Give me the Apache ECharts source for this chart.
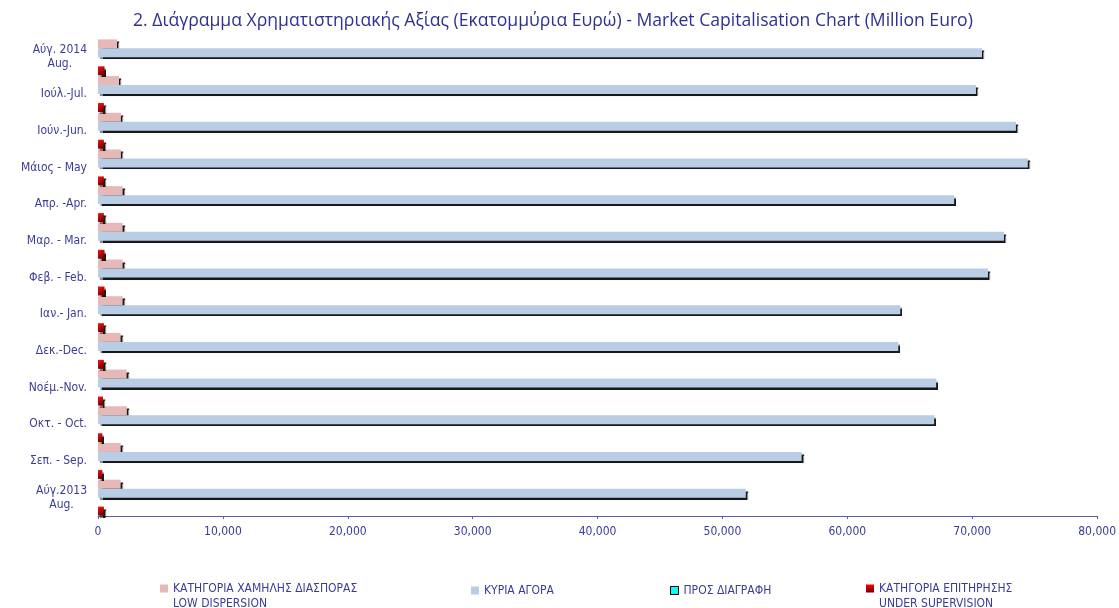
<!DOCTYPE html>
<html>
<head>
<meta charset="utf-8">
<script src="https://cdn.jsdelivr.net/npm/echarts@6/dist/echarts.min.js"></script>
<style>
  html, body { margin: 0; padding: 0; background: #fff; }
  #chart { width: 1119px; height: 608px; }
</style>
</head>
<body>
<div id="chart"></div>
<script>
// months, bottom (Aug 2013) to top (Aug 2014)
const categories = ['Αύγ.2013\nAug.', 'Σεπ. - Sep.', 'Οκτ. - Oct.', 'Νοέμ.-Nov.', 'Δεκ.-Dec.', 'Ιαν.- Jan.',
  'Φεβ. - Feb.', 'Μαρ. - Mar.', 'Απρ. -Apr.', 'Μάιος - May', 'Ιούν.-Jun.', 'Ιούλ.-Jul.', 'Αύγ. 2014\nAug.']

const lowDispersion = [1810, 1810, 2310, 2290, 1810, 1970, 1970, 1970, 1970, 1835, 1835, 1680, 1520]
const mainMarket = [51870, 56340, 66950, 67110, 64080, 64240, 71260, 72540, 68550, 74450, 73500, 70300, 70780]
const toBeDeleted = [0, 0, 0, 0, 0, 0, 0, 0, 0, 0, 0, 0, 0]
const underSupervision = [470, 350, 350, 400, 470, 470, 520, 520, 470, 470, 470, 470, 520]

const seriesNames = ['ΚΑΤΗΓΟΡΙΑ ΧΑΜΗΛΗΣ ΔΙΑΣΠΟΡΑΣ\nLOW DISPERSION', 'ΚΥΡΙΑ ΑΓΟΡΑ', 'ΠΡΟΣ ΔΙΑΓΡΑΦΗ',
  'ΚΑΤΗΓΟΡΙΑ ΕΠΙΤΗΡΗΣΗΣ\nUNDER SUPERVISION']

const xMin = 0
const xMax = 80000
const xStep = 10000

const FONT = '"DejaVu Sans Condensed", "DejaVu Sans", sans-serif'
const TXT = '#3b3b98'
const FS = 12

// second line of two-line labels is centred under the first one
const measure = document.createElement('canvas').getContext('2d')
measure.font = FS + 'px ' + FONT
const labelRich = {}
categories.forEach((c, i) => {
  const lines = c.split('\n')
  if (lines.length < 2) return
  const pad = Math.max(0, (measure.measureText(lines[0]).width - measure.measureText(lines[1]).width) / 2)
  labelRich['p' + i] = { padding: [0, pad, 0, 0], fontSize: FS, fontFamily: FONT, color: TXT, lineHeight: 14 }
})
labelRich.t = { fontSize: FS, fontFamily: FONT, color: TXT, lineHeight: 14 }

const shadow = {
  shadowColor: 'rgba(0,0,0,0.9)',
  shadowBlur: 1,
  shadowOffsetX: 2,
  shadowOffsetY: 2
}

const chart = echarts.init(document.getElementById('chart'))

// square icon sitting on the first of two text lines
const topIcon = 'path://M0,0H8V8H0ZM0,23H0.001V23.001H0Z'

const legendBase = {
  top: 576,
  itemWidth: 8,
  itemHeight: 8,
  selectedMode: false,
  textStyle: { fontSize: FS, fontFamily: FONT, color: TXT, lineHeight: 15 }
}

const option = {
  animation: false,
  title: {
    text: '2. Διάγραμμα Χρηματιστηριακής Αξίας (Εκατομμύρια Ευρώ) - Market Capitalisation Chart (Million Euro)',
    left: 128,
    top: 7,
    textStyle: { fontSize: 17.6, fontWeight: 'normal', fontFamily: '"Open Sans", sans-serif', color: '#2e3192' }
  },
  legend: [
    Object.assign({}, legendBase, {
      left: 155,
      itemHeight: 23,
      data: [{ name: seriesNames[0], icon: topIcon, itemStyle: { color: '#e6b9b8' } }]
    }),
    Object.assign({}, legendBase, {
      left: 466, top: 578,
      data: [{ name: seriesNames[1], icon: 'rect', itemStyle: { color: '#b9cde5' } }]
    }),
    Object.assign({}, legendBase, {
      left: 665, top: 578,
      data: [{ name: seriesNames[2], icon: 'rect', itemStyle: { color: '#00ffff', borderColor: '#000', borderWidth: 1 } }]
    }),
    Object.assign({}, legendBase, {
      left: 861,
      itemHeight: 23,
      data: [{
        name: seriesNames[3], icon: topIcon,
        itemStyle: {
          color: new echarts.graphic.LinearGradient(0, 0, 0, 0.35, [
            { offset: 0, color: '#ff0000' },
            { offset: 1, color: '#6a0000' }
          ])
        }
      }]
    })
  ],
  grid: { left: 98, right: 19, top: 39, bottom: 92 },
  xAxis: {
    type: 'value',
    min: xMin,
    max: xMax,
    interval: xStep,
    axisLine: { show: true, lineStyle: { color: '#5b5ba8', width: 1 } },
    axisTick: { show: true, length: 3, lineStyle: { color: '#5b5ba8' } },
    splitLine: { show: false },
    axisLabel: { fontSize: FS, fontFamily: FONT, color: TXT, margin: 10 }
  },
  yAxis: {
    type: 'category',
    data: categories,
    axisLine: { show: false },
    axisTick: { show: false },
    axisLabel: {
      margin: 11,
      fontSize: FS,
      fontFamily: FONT,
      color: TXT,
      lineHeight: 14,
      interval: 0,
      formatter: (v, i) => {
        const lines = v.split('\n')
        if (lines.length < 2) return v
        return '{t|' + lines[0] + '}\n{p' + i + '|' + lines[1] + '}'
      },
      rich: labelRich
    }
  },
  series: [
    {
      name: seriesNames[0],
      type: 'bar',
      data: lowDispersion,
      barGap: '0%',
      barCategoryGap: '2%',
      itemStyle: Object.assign({ color: '#e6b9b8' }, shadow)
    },
    {
      name: seriesNames[1],
      type: 'bar',
      data: mainMarket,
      itemStyle: Object.assign({ color: '#b9cde5' }, shadow)
    },
    {
      name: seriesNames[2],
      type: 'bar',
      data: toBeDeleted,
      itemStyle: { color: '#00ffff' }
    },
    {
      name: seriesNames[3],
      type: 'bar',
      data: underSupervision,
      itemStyle: Object.assign({
        color: new echarts.graphic.LinearGradient(0, 0, 1, 1, [
          { offset: 0, color: '#ff1010' },
          { offset: 1, color: '#5a0000' }
        ])
      }, shadow)
    }
  ]
}

chart.setOption(option)
</script>
</body>
</html>
